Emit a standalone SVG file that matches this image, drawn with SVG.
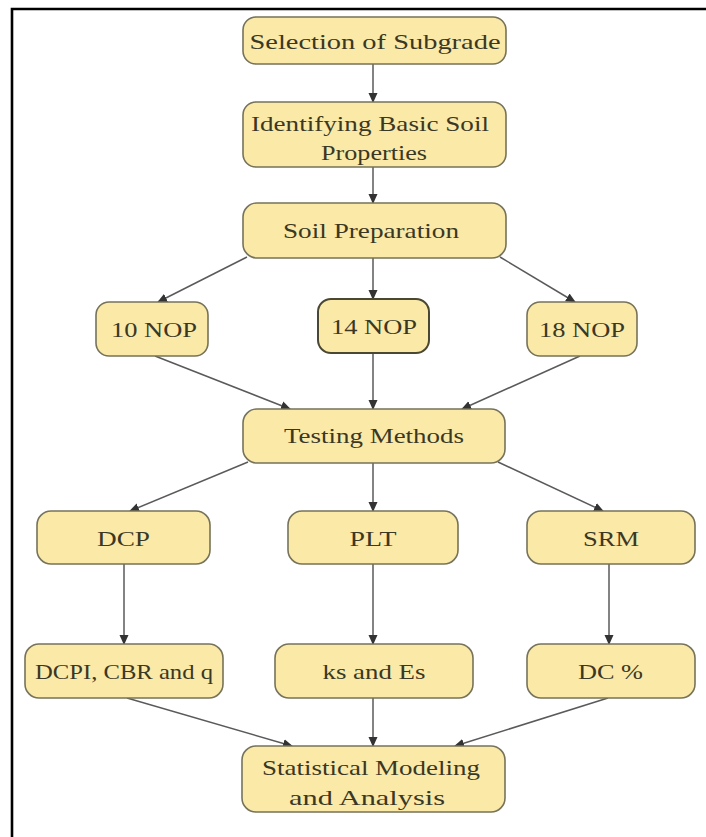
<svg xmlns="http://www.w3.org/2000/svg" width="706" height="837" viewBox="0 0 706 837">
<style>
.box{fill:#fbe9a8;stroke:#76735a;stroke-width:1.6}
.box.dark{stroke:#4a4832;stroke-width:2}
.t{font-family:"Liberation Serif","Times New Roman",serif;font-size:21px;fill:#3a3824;text-anchor:middle}
.c{stroke:#5a5a5a;stroke-width:1.5;fill:none;marker-end:url(#ah)}
</style>
<defs>
<marker id="ah" markerUnits="userSpaceOnUse" markerWidth="10" markerHeight="10" refX="9" refY="4.5" orient="auto" viewBox="0 0 10 9">
<path d="M0,0 L10,4.5 L0,9 z" fill="#333"/>
</marker>
</defs>
<rect width="706" height="837" fill="#fff"/>
<path d="M12,837 V9 H706" fill="none" stroke="#000" stroke-width="2.6"/>
<g id="connectors">
<line class="c" x1="373" y1="64" x2="373" y2="102"/>
<line class="c" x1="373" y1="167" x2="373" y2="203"/>
<line class="c" x1="247" y1="257" x2="158" y2="302"/>
<line class="c" x1="373" y1="258" x2="373" y2="299"/>
<line class="c" x1="500" y1="257" x2="575" y2="302"/>
<line class="c" x1="155" y1="356" x2="290" y2="409"/>
<line class="c" x1="373" y1="353" x2="373" y2="409"/>
<line class="c" x1="580" y1="356" x2="462" y2="409"/>
<line class="c" x1="248" y1="462" x2="130" y2="511"/>
<line class="c" x1="373" y1="463" x2="373" y2="511"/>
<line class="c" x1="498" y1="462" x2="603" y2="511"/>
<line class="c" x1="124" y1="564" x2="124" y2="644"/>
<line class="c" x1="373" y1="564" x2="373" y2="644"/>
<line class="c" x1="609" y1="564" x2="609" y2="644"/>
<line class="c" x1="127" y1="698" x2="292" y2="746"/>
<line class="c" x1="373" y1="698" x2="373" y2="746"/>
<line class="c" x1="608" y1="698" x2="455" y2="746"/>
</g>
<g id="sel"><rect class="box" x="243" y="17" width="263" height="47" rx="13"/><text class="t" x="375" y="49" textLength="251" lengthAdjust="spacingAndGlyphs">Selection of Subgrade</text></g>
<g id="ident"><rect class="box" x="243" y="102" width="263" height="65" rx="13"/><text class="t" x="370" y="131" textLength="238" lengthAdjust="spacingAndGlyphs">Identifying Basic Soil</text><text class="t" x="374" y="160" textLength="106" lengthAdjust="spacingAndGlyphs">Properties</text></g>
<g id="soil"><rect class="box" x="243" y="203" width="263" height="55" rx="14"/><text class="t" x="371" y="238" textLength="176" lengthAdjust="spacingAndGlyphs">Soil Preparation</text></g>
<g id="n10"><rect class="box" x="96" y="302" width="112" height="54" rx="13"/><text class="t" x="154" y="337" textLength="86" lengthAdjust="spacingAndGlyphs">10 NOP</text></g>
<g id="n14"><rect class="box dark" x="318" y="299" width="111" height="54" rx="13"/><text class="t" x="374" y="334" textLength="86" lengthAdjust="spacingAndGlyphs">14 NOP</text></g>
<g id="n18"><rect class="box" x="527" y="302" width="110" height="54" rx="13"/><text class="t" x="582" y="337" textLength="86" lengthAdjust="spacingAndGlyphs">18 NOP</text></g>
<g id="test"><rect class="box" x="243" y="409" width="262" height="54" rx="14"/><text class="t" x="374" y="443" textLength="180" lengthAdjust="spacingAndGlyphs">Testing Methods</text></g>
<g id="dcp"><rect class="box" x="37" y="511" width="173" height="53" rx="14"/><text class="t" x="123.5" y="546" textLength="53" lengthAdjust="spacingAndGlyphs">DCP</text></g>
<g id="plt"><rect class="box" x="288" y="511" width="170" height="53" rx="14"/><text class="t" x="373" y="546" textLength="47" lengthAdjust="spacingAndGlyphs">PLT</text></g>
<g id="srm"><rect class="box" x="527" y="511" width="168" height="53" rx="14"/><text class="t" x="611" y="546" textLength="56" lengthAdjust="spacingAndGlyphs">SRM</text></g>
<g id="dcpi"><rect class="box" x="25" y="644" width="198" height="54" rx="14"/><text class="t" x="124" y="679" textLength="178" lengthAdjust="spacingAndGlyphs">DCPI, CBR and q</text></g>
<g id="ks"><rect class="box" x="275" y="644" width="198" height="54" rx="14"/><text class="t" x="374" y="679" textLength="103" lengthAdjust="spacingAndGlyphs">ks and Es</text></g>
<g id="dc"><rect class="box" x="527" y="644" width="168" height="54" rx="14"/><text class="t" x="610.5" y="679" textLength="65" lengthAdjust="spacingAndGlyphs">DC %</text></g>
<g id="stat"><rect class="box" x="242" y="746" width="263" height="66" rx="14"/><text class="t" x="371" y="775" textLength="218" lengthAdjust="spacingAndGlyphs">Statistical Modeling</text><text class="t" x="367" y="805" textLength="156" lengthAdjust="spacingAndGlyphs">and Analysis</text></g>
</svg>
